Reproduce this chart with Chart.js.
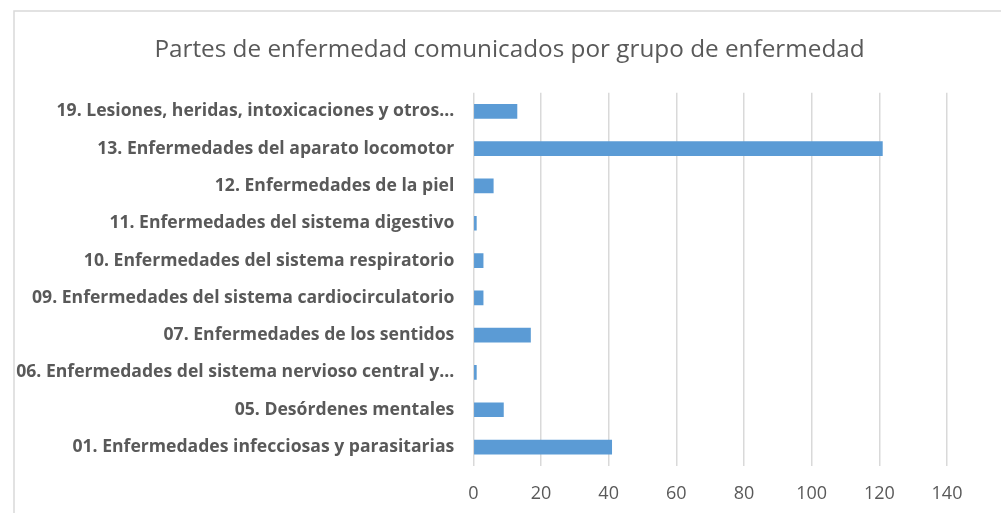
<!DOCTYPE html>
<html>
<head>
<meta charset="utf-8">
<script src="https://cdn.jsdelivr.net/npm/chart.js@4/dist/chart.umd.min.js"></script>
<style>
  html, body { margin: 0; padding: 0; background: #fff; }
  #wrap { width: 1001px; height: 513px; }
</style>
</head>
<body>
<div id="wrap"><canvas id="myChart" width="1001" height="513"></canvas></div>
<script>
var titulo = 'Partes de enfermedad comunicados por grupo de enfermedad';
var grupos = [
    '19. Lesiones, heridas, intoxicaciones y otros...',
    '13. Enfermedades del aparato locomotor',
    '12. Enfermedades de la piel',
    '11. Enfermedades del sistema digestivo',
    '10. Enfermedades del sistema respiratorio',
    '09. Enfermedades del sistema cardiocirculatorio',
    '07. Enfermedades de los sentidos',
    '06. Enfermedades del sistema nervioso central y...',
    '05. Desórdenes mentales',
    '01. Enfermedades infecciosas y parasitarias'
];
var partes = [13, 121, 6, 1, 3, 3, 17, 1, 9, 41];
var ejeMin = 0;
var ejeMax = 140;
var ejePaso = 20;

var gris = '#595959';
var rejilla = '#d9d9d9';

// white background, thin frame and the title (centred on the whole frame)
var marco = {
    id: 'marco',
    beforeDraw: function (chart) {
        var c = chart.ctx;
        c.save();
        c.fillStyle = '#ffffff';
        c.fillRect(0, 0, chart.width, chart.height);
        c.strokeStyle = rejilla;
        c.lineWidth = 1.5;
        c.strokeRect(14, 11, chart.width + 20, chart.height + 20);
        c.fillStyle = gris;
        c.font = '24.3px "Open Sans"';
        c.textAlign = 'center';
        c.textBaseline = 'alphabetic';
        c.fillText(titulo, 509.5, 57);
        c.restore();
    }
};

window.onload = function () {
    var ctx = document.getElementById('myChart').getContext('2d');
    new Chart(ctx, {
        type: 'bar',
        data: {
            labels: grupos,
            datasets: [{
                label: 'Partes',
                data: partes,
                backgroundColor: '#5b9bd5',
                borderWidth: 0,
                categoryPercentage: 1,
                barPercentage: 0.394
            }]
        },
        options: {
            indexAxis: 'y',
            responsive: false,
            animation: false,
            layout: { padding: { left: 14, right: 54, top: 92.7, bottom: 0 } },
            plugins: {
                legend: { display: false },
                tooltip: { enabled: false },
                title: { display: false }
            },
            scales: {
                x: {
                    min: ejeMin,
                    max: ejeMax,
                    ticks: {
                        stepSize: ejePaso,
                        color: gris,
                        padding: 17,
                        font: { family: 'Open Sans', size: 18 }
                    },
                    grid: { color: rejilla, lineWidth: 1.5, drawTicks: false },
                    border: { display: false },
                    afterFit: function (scale) { scale.height = 47.3; }
                },
                y: {
                    ticks: {
                        color: gris,
                        padding: 19,
                        font: { family: 'Open Sans', size: 17.6, weight: 'bold' }
                    },
                    grid: { display: false, drawTicks: false },
                    border: { display: false },
                    afterFit: function (scale) { scale.width = 459.3; }
                }
            }
        },
        plugins: [marco]
    });
};
</script>
</body>
</html>
